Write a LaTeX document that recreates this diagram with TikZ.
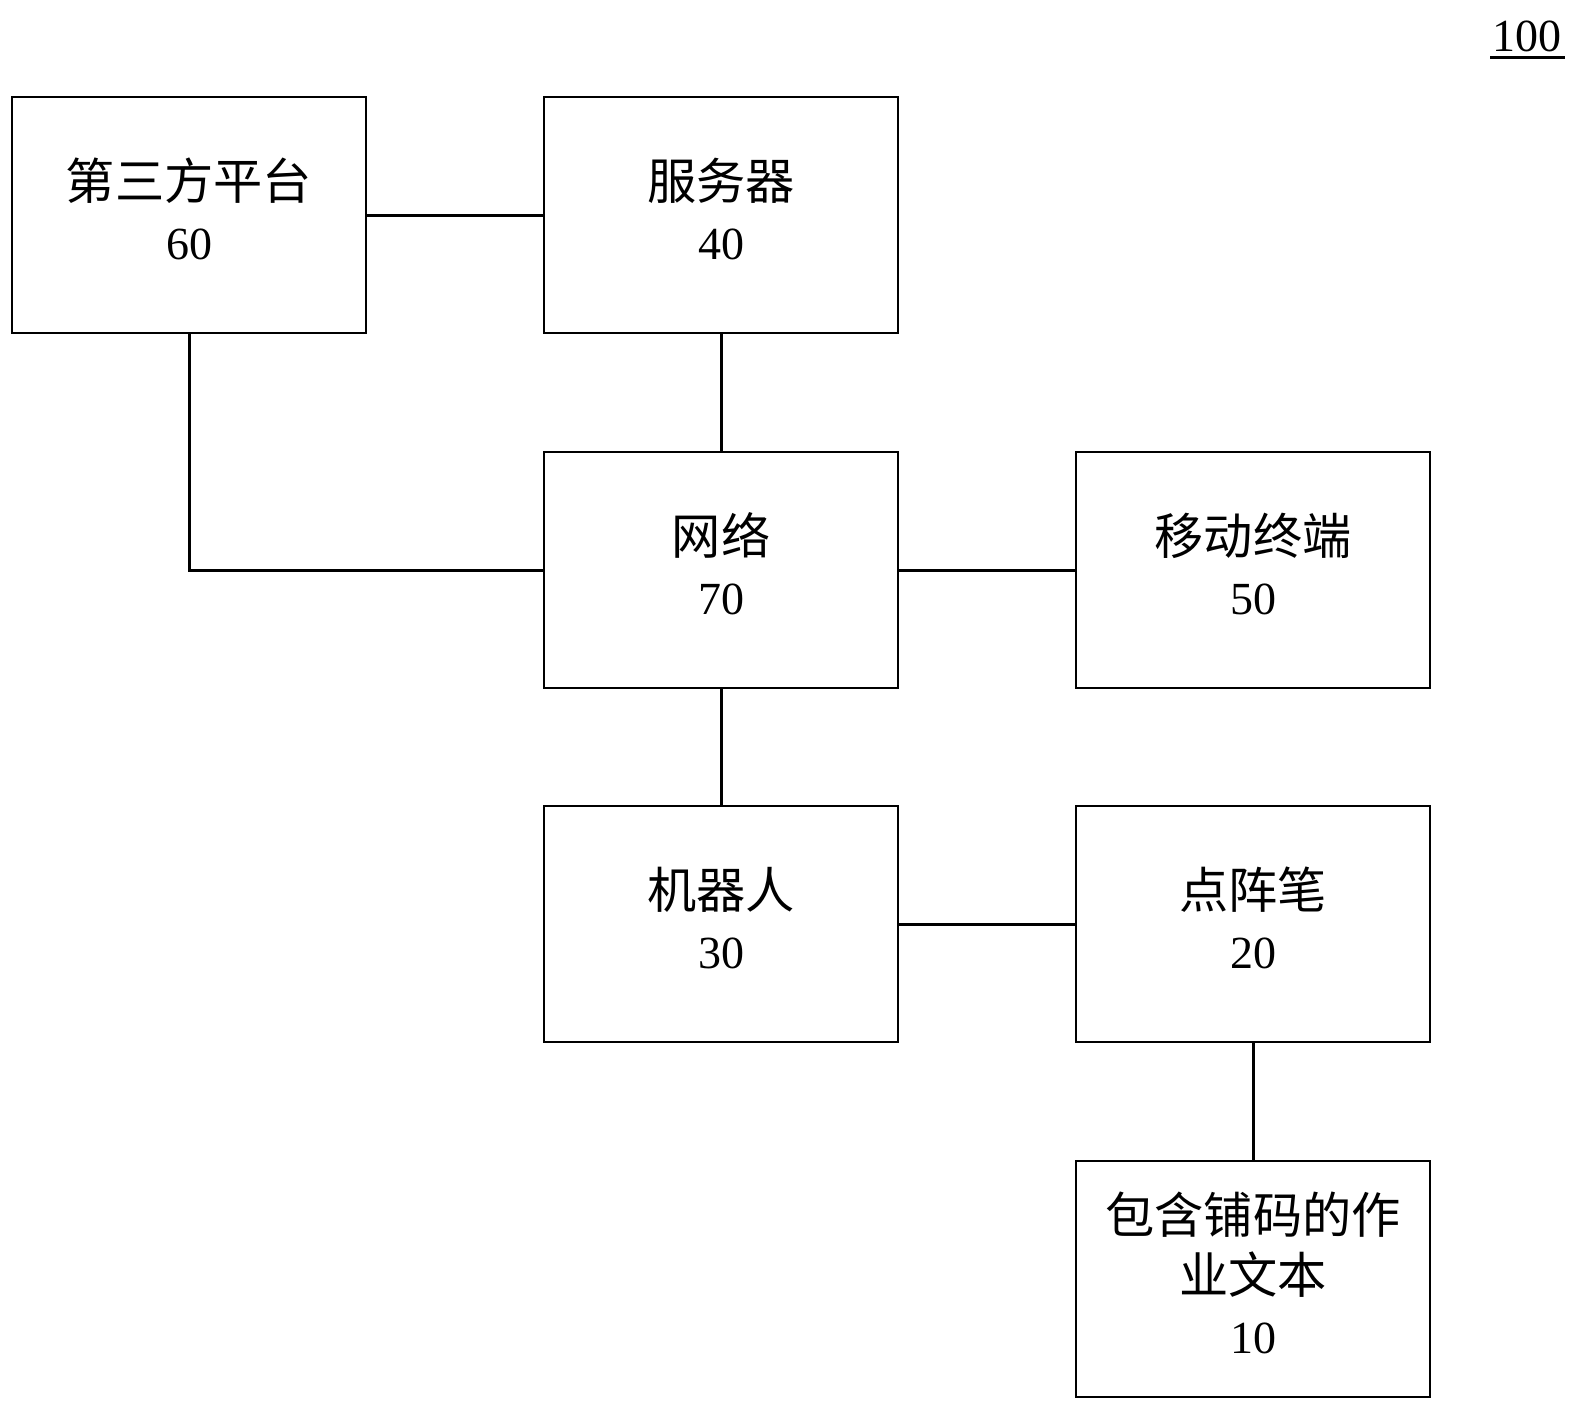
\documentclass[tikz,border=0pt]{standalone}
\usepackage{fontspec}
\setmainfont{Liberation Serif}
\newfontfamily\cjk[Scale=1.07]{Noto Sans CJK SC}
\begin{document}
\begin{tikzpicture}[x=1pt,y=-1pt,
  blk/.style={draw, line width=1.3pt, minimum width=354pt, minimum height=236pt, inner sep=0pt},
  txt/.style={inner sep=0pt, align=center, font=\fontsize{46}{60}\selectfont, yshift=6pt},
  link/.style={line width=3pt}]
\useasboundingbox (0,0) rectangle (1579,1411);
\node[blk, label={[txt]center:{{\cjk 第三方平台}\\60}}] (n60) at (189,215) {};
\node[blk, label={[txt]center:{{\cjk 服务器}\\40}}] (n40) at (721,215) {};
\node[blk, label={[txt]center:{{\cjk 网络}\\70}}] (n70) at (721,570) {};
\node[blk, label={[txt]center:{{\cjk 移动终端}\\50}}] (n50) at (1253,570) {};
\node[blk, label={[txt]center:{{\cjk 机器人}\\30}}] (n30) at (721,924) {};
\node[blk, label={[txt]center:{{\cjk 点阵笔}\\20}}] (n20) at (1253,924) {};
\node[blk, label={[txt]center:{{\cjk 包含铺码的作}\\{\cjk 业文本}\\10}}] (n10) at (1253,1279) {};
\node[inner sep=0pt, font=\fontsize{46}{56}\selectfont] (lbl) at (1527,36) {100};
\draw[line width=3pt] (1490,57) -- (1565,57);
\draw[link] (n60.east) -- (n40.west);
\draw[link] (n60.south) |- (n70.west);
\draw[link] (n40.south) -- (n70.north);
\draw[link] (n70.east) -- (n50.west);
\draw[link] (n70.south) -- (n30.north);
\draw[link] (n30.east) -- (n20.west);
\draw[link] (n20.south) -- (n10.north);
\end{tikzpicture}
\end{document}
